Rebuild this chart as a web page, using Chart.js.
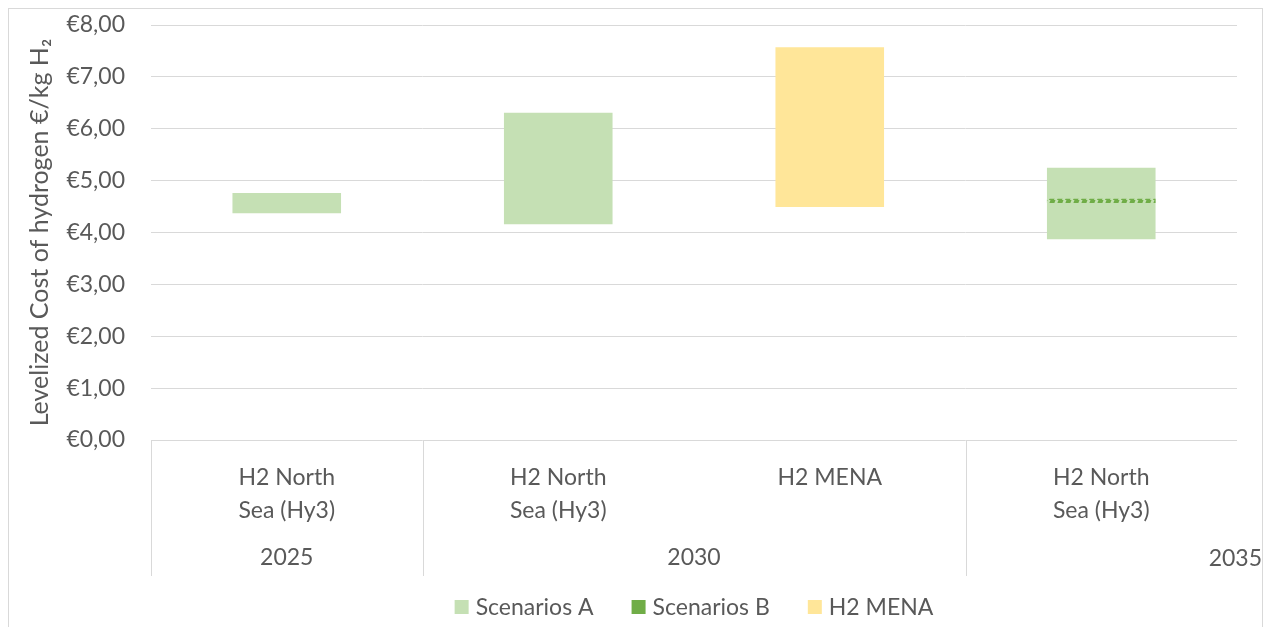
<!DOCTYPE html>
<html>
<head>
  <title>Levelized Cost of Hydrogen</title>
  <script src="https://cdn.jsdelivr.net/npm/chart.js"></script>
  <style>
    body { margin: 0; background: #fff; }
    #wrap { position: relative; width: 1268px; height: 627px; }
    #frame { position: absolute; left: 8px; top: 8px; width: 1255px; height: 630px; border: 1px solid #d9d9d9; box-sizing: border-box; }
    canvas { position: absolute; left: 0; top: 0; }
  </style>
</head>
<body>
  <div id="wrap">
    <div id="frame"></div>
    <canvas id="lcoh" width="1268" height="627"></canvas>
  </div>

  <script>
    // categories and groups
    let categories = [["H2 North", "Sea (Hy3)"], ["H2 North", "Sea (Hy3)"], ["H2 MENA"], ["H2 North", "Sea (Hy3)"]];
    let groupLabels = ["2025", "2030", "2035"];
    let groupSpans = [1, 2, 1];

    // cost ranges (low, high) in €/kg H2
    let scenariosA = [[4.37, 4.76], [4.16, 6.31], null, [3.87, 5.25]];
    let scenariosB = [null, null, null, [4.57, 4.65]];
    let menaRange = [null, null, [4.49, 7.57], null];

    let yTicks = [0, 1, 2, 3, 4, 5, 6, 7, 8];

    const FONT = "Lato, 'Open Sans', sans-serif";
    const TXT = "#595959";
    const SIZE = 23;

    let colorA = "#c5e0b4";
    let colorB = "#70ad47";
    let colorM = "#ffe699";

    // slanted dash fill for the thin scenario B band
    function hatch() {
      let c = document.createElement("canvas");
      c.width = 8; c.height = 4;
      let g = c.getContext("2d");
      g.fillStyle = colorA;
      g.fillRect(0, 0, 8, 4);
      g.fillStyle = colorB;
      g.beginPath();
      g.moveTo(1, 4); g.lineTo(6, 4); g.lineTo(7.5, 0); g.lineTo(2.5, 0);
      g.closePath();
      g.fill();
      return g.createPattern(c, "repeat");
    }

    // draws the year row and its separators under the category labels
    let groupAxis = {
      id: "groupAxis",
      afterDraw(chart) {
        let ctx = chart.ctx;
        let x = chart.scales.x;
        let area = chart.chartArea;
        let half = (x.getPixelForValue(1) - x.getPixelForValue(0)) / 2;
        let top = area.bottom;
        let bottom = area.bottom + 136;
        ctx.save();
        ctx.strokeStyle = "#d9d9d9";
        ctx.lineWidth = 1;
        let idx = 0;
        let edges = [idx];
        groupSpans.forEach(s => { idx += s; edges.push(idx); });
        edges.slice(0, -1).forEach(e => {
          let px = Math.round(x.getPixelForValue(e) - half) + 0.5;
          ctx.beginPath();
          ctx.moveTo(px, top);
          ctx.lineTo(px, bottom);
          ctx.stroke();
        });
        ctx.fillStyle = TXT;
        ctx.font = SIZE + "px " + FONT;
        ctx.textBaseline = "middle";
        groupLabels.forEach((lab, i) => {
          let start = x.getPixelForValue(edges[i]) - half;
          let end = x.getPixelForValue(edges[i + 1] - 1) + half;
          if (i === groupLabels.length - 1) {
            ctx.textAlign = "right";
            ctx.fillText(lab, chart.width - 6, area.bottom + 119);
          } else {
            ctx.textAlign = "center";
            ctx.fillText(lab, (start + end) / 2, area.bottom + 118);
          }
        });
        ctx.restore();
      }
    };

    // legend row under the axis, centred on the plot area
    let legendRow = {
      id: "legendRow",
      afterDraw(chart) {
        let ctx = chart.ctx;
        let area = chart.chartArea;
        let items = [["Scenarios A", colorA], ["Scenarios B", colorB], ["H2 MENA", colorM]];
        let box = 14, gap = 7, space = 38;
        ctx.save();
        ctx.font = SIZE + "px " + FONT;
        ctx.textBaseline = "middle";
        ctx.textAlign = "left";
        let widths = items.map(it => box + gap + ctx.measureText(it[0]).width);
        let total = widths.reduce((a, b) => a + b, 0) + space * (items.length - 1);
        let cx = (area.left + area.right) / 2 - total / 2;
        let cy = 607;
        items.forEach((it, i) => {
          ctx.fillStyle = it[1];
          ctx.fillRect(cx, cy - box / 2, box, box);
          ctx.fillStyle = TXT;
          ctx.fillText(it[0], cx + box + gap, cy + 1);
          cx += widths[i] + space;
        });
        ctx.restore();
      }
    };

    let chart = new Chart(document.getElementById("lcoh"), {
      type: "bar",
      data: {
        labels: categories,
        datasets: [
          { label: "Scenarios A", data: scenariosA, backgroundColor: colorA, order: 2 },
          { label: "Scenarios B", data: scenariosB, backgroundColor: hatch(), order: 1 },
          { label: "H2 MENA", data: menaRange, backgroundColor: colorM, order: 2 }
        ]
      },
      options: {
        responsive: false,
        animation: false,
        layout: { padding: { top: 25, right: 31, left: 0, bottom: 40 } },
        datasets: { bar: { categoryPercentage: 0.4, barPercentage: 1, grouped: false } },
        scales: {
          x: {
            stacked: true,
            grid: { display: false },
            border: { display: false },
            ticks: {
              color: TXT,
              font: { family: FONT, size: SIZE, lineHeight: 1.43 },
              padding: 13,
              maxRotation: 0,
              autoSkip: false
            },
            afterFit: s => { s.height = 147; }
          },
          y: {
            min: 0,
            max: 8,
            afterBuildTicks: s => {
              let t = [];
              yTicks.forEach(v => { t.push({ value: v }); if (v < 8) t.push({ value: v + 0.5 }); });
              s.ticks = t;
            },
            grid: {
              color: c => (c.tick && Number.isInteger(c.tick.value)) ? "#d9d9d9" : "#f0f0f0",
              drawTicks: false
            },
            border: { display: false },
            ticks: {
              color: TXT,
              font: { family: FONT, size: SIZE },
              padding: 26,
              callback: v => Number.isInteger(v) ? "€" + v.toFixed(2).replace(".", ",") : ""
            },
            title: {
              display: true,
              text: "Levelized Cost of hydrogen €/kg H₂",
              color: TXT,
              font: { family: FONT, size: 25 },
              padding: { top: 25, bottom: 0 }
            },
            afterFit: s => { s.width = 151; s.paddingTop = 0; s.paddingBottom = 0; }
          }
        },
        plugins: {
          legend: { display: false },
          tooltip: { enabled: false }
        }
      },
      plugins: [groupAxis, legendRow]
    });
  </script>
</body>
</html>
